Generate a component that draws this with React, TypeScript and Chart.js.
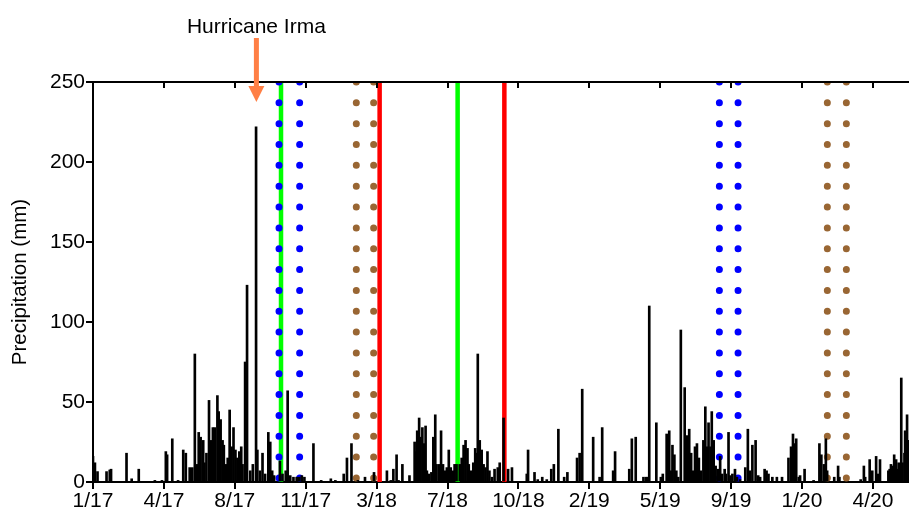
import { useEffect, useRef } from 'react';
import { Chart, registerables } from 'chart.js';

Chart.register(...registerables);

// Daily precipitation readings: day index (days since 1/1/17) and value in mm
const rainDay = [
  0, 3, 7, 21, 26, 28, 52, 60, 71, 96, 107, 113, 115, 123, 132, 140, 144, 150, 154, 158,
  161, 164, 167, 171, 173, 176, 180, 183, 186, 189, 193, 195, 198, 201, 203, 206, 209, 212, 215, 218,
  221, 224, 227, 230, 232, 236, 239, 244, 248, 253, 255, 259, 263, 267, 272, 275, 278, 281, 290, 294,
  299, 302, 306, 311, 316, 320, 324, 328, 342, 354, 369, 376, 389, 394, 401, 411, 422, 436, 456, 462,
  466, 471, 474, 480, 491, 499, 501, 503, 506, 508, 511, 514, 516, 518, 521, 525, 528, 531, 533, 537,
  540, 543, 546, 549, 552, 555, 559, 561, 564, 569, 572, 575, 578, 581, 583, 586, 590, 593, 595, 597,
  600, 603, 606, 609, 612, 615, 619, 623, 628, 631, 637, 644, 650, 673, 675, 685, 690, 697, 704, 711,
  715, 722, 731, 736, 751, 755, 759, 776, 786, 790, 807, 810, 832, 836, 842, 854, 858, 861, 863, 874,
  881, 884, 890, 894, 897, 899, 902, 905, 908, 912, 918, 922, 925, 928, 931, 934, 937, 940, 943, 947,
  950, 953, 955, 958, 960, 963, 966, 970, 973, 976, 980, 982, 986, 989, 992, 996, 999, 1004, 1012, 1016,
  1019, 1023, 1028, 1032, 1035, 1042, 1045, 1048, 1054, 1061, 1069, 1079, 1083, 1086, 1088, 1091, 1095, 1097, 1104, 1118,
  1127, 1130, 1134, 1137, 1139, 1150, 1156, 1158, 1191, 1196, 1198, 1205, 1209, 1215, 1218, 1221, 1234, 1236, 1238, 1241,
  1243, 1246, 1248, 1250, 1252, 1254, 1256, 1259, 1260, 1263, 1265,
];
const rainMm = [
  16, 12, 6.5, 6.5, 7.5, 8, 18, 2, 8, 1, 1, 19, 17, 27, 1, 20, 18, 9, 9, 80,
  11, 31, 28, 26, 12, 18, 51, 26, 34, 34, 54, 44, 39, 26, 23, 11, 15, 45, 22, 34,
  20, 15, 19, 22, 11, 75, 123, 7, 11, 222, 20, 7, 18, 5, 31, 25, 7, 4, 13, 5,
  7, 57, 4, 3, 3, 3, 4, 3, 24, 1, 2, 1, 5, 15, 24, 1, 3, 6, 7, 1,
  8, 17, 1, 11, 4, 25, 19, 32, 40, 28, 34, 24, 35, 7, 5, 6, 28, 42, 11, 11,
  32, 11, 7, 9, 20, 9, 7, 11, 11, 11, 15, 23, 26, 21, 11, 7, 12, 21, 18, 80,
  26, 20, 11, 9, 19, 7, 3, 8, 9, 12, 40, 8, 9, 5, 20, 6, 1.5, 3, 1.5, 8,
  11, 33, 3, 6, 15, 18, 58, 28, 3, 34, 7, 19, 8, 27, 28, 3, 3, 3, 110, 37,
  3, 5, 30, 32, 7, 23, 17, 7, 3, 95, 59, 29, 33, 18, 7, 22, 24, 15, 7, 26,
  47, 22, 37, 22, 44, 26, 10, 8, 16, 5, 8, 5, 31, 4, 5, 8, 3, 1.5, 9, 33,
  7, 23, 26, 4, 3, 8, 7, 5, 3, 3, 3, 15, 22, 30, 24, 27, 3, 4, 8, 1,
  24, 17, 11, 27, 7, 3, 10, 3, 1.5, 10, 3, 14, 7, 16, 5, 14, 7, 8, 11, 10,
  17, 14, 8, 12, 9, 65, 12, 18, 32, 42, 26,
];

const xTickDays = [0, 110, 220, 330, 440, 550, 660, 770, 880, 990, 1100, 1210];
const xTickLabels = ['1/17', '4/17', '8/17', '11/17', '3/18', '7/18', '10/18', '2/19', '5/19', '9/19', '1/20', '4/20'];
const yTickValues = [0, 50, 100, 150, 200, 250];
const xMaxDay = 1266;

const greenDays = [291.7, 565.7];
const redDays = [444.7, 638.2];
const blueDotDays = [288.6, 320.6, 971.8, 1000.8];
const brownDotDays = [408.5, 435.4, 1139.3, 1168.8];

const irmaDay = 253.5;
const irmaLabel = 'Hurricane Irma';
const irmaTextY = 280.4;
const irmaArrowTop = 277.5;
const irmaArrowHeadBase = 247.5;
const irmaArrowTip = 237.5;

const FONT = "'Liberation Sans', Arial, Helvetica, sans-serif";

export default function App() {
  const ref = useRef<HTMLCanvasElement | null>(null);

  useEffect(() => {
    if (!ref.current) return;
    Chart.defaults.font.family = FONT;
    Chart.defaults.font.size = 21;
    Chart.defaults.color = '#000';

    const vLine = (d: number, color: string, width: number, dotted: boolean, order: number) => ({
      type: 'line' as const,
      data: [
        { x: d, y: 250 },
        { x: d, y: 0 },
      ],
      borderColor: color,
      backgroundColor: color,
      borderWidth: width,
      borderDash: dotted ? [0, 20.84] : [],
      borderCapStyle: dotted ? ('round' as const) : ('butt' as const),
      pointRadius: 0,
      fill: false,
      order,
    });

    const topAxisPlugin = {
      id: 'topAxisAndNote',
      afterDraw(chart: any) {
        const { ctx, chartArea, scales } = chart;
        const xs = scales.x;
        const ys = scales.y;
        ctx.save();
        ctx.strokeStyle = '#000';
        ctx.lineWidth = 2;
        ctx.beginPath();
        ctx.moveTo(chartArea.left, chartArea.top);
        ctx.lineTo(chartArea.right, chartArea.top);
        ctx.stroke();
        xTickDays.forEach((d) => {
          const px = Math.round(xs.getPixelForValue(d));
          ctx.beginPath();
          ctx.moveTo(px, chartArea.top);
          ctx.lineTo(px, chartArea.top + 6);
          ctx.stroke();
        });
        const ax = xs.getPixelForValue(irmaDay);
        const yTop = ys.getPixelForValue(irmaArrowTop);
        const yHead = ys.getPixelForValue(irmaArrowHeadBase);
        const yTip = ys.getPixelForValue(irmaArrowTip);
        ctx.fillStyle = '#ff7f45';
        ctx.fillRect(ax - 2.5, yTop, 5, yHead - yTop + 1);
        ctx.beginPath();
        ctx.moveTo(ax - 8, yHead);
        ctx.lineTo(ax + 8, yHead);
        ctx.lineTo(ax, yTip);
        ctx.closePath();
        ctx.fill();
        ctx.fillStyle = '#000';
        ctx.font = `21px ${FONT}`;
        ctx.textAlign = 'center';
        ctx.textBaseline = 'alphabetic';
        ctx.fillText(irmaLabel, ax, ys.getPixelForValue(irmaTextY));
        ctx.restore();
      },
    };

    const datasets: any[] = [
      {
        type: 'bar',
        data: rainDay.map((d, i) => ({ x: d, y: rainMm[i] })),
        backgroundColor: '#000',
        borderWidth: 0,
        barThickness: 2,
        order: 0,
      },
      ...blueDotDays.map((d) => vLine(d, '#0000ff', 7, true, 1)),
      ...brownDotDays.map((d) => vLine(d, '#996633', 7, true, 1)),
      ...greenDays.map((d) => vLine(d, '#00ff00', 4.5, false, 2)),
      ...redDays.map((d) => vLine(d, '#ff0000', 4.5, false, 2)),
    ];

    const chart = new Chart(ref.current, {
      type: 'bar',
      data: { datasets },
      options: {
        animation: false,
        responsive: false,
        devicePixelRatio: 1,
        layout: { padding: { top: 82, right: 0, bottom: 0, left: 0 } },
        plugins: {
          legend: { display: false },
          tooltip: { enabled: false },
        },
        scales: {
          x: {
            type: 'linear',
            min: 0,
            max: xMaxDay,
            offset: false,
            afterBuildTicks: (s: any) => {
              s.ticks = xTickDays.map((v) => ({ value: v }));
            },
            afterFit: (s: any) => {
              s.height = 28;
            },
            ticks: {
              autoSkip: false,
              maxRotation: 0,
              minRotation: 0,
              padding: 0,
              color: '#000',
              font: { size: 21, family: FONT },
              callback: (_v: any, i: number) => xTickLabels[i],
            },
            grid: {
              display: true,
              drawOnChartArea: false,
              drawTicks: true,
              tickLength: 7,
              color: '#000',
              lineWidth: 2,
              offset: false,
            },
            border: { display: true, color: '#000', width: 2 },
          },
          y: {
            type: 'linear',
            min: 0,
            max: 250,
            afterBuildTicks: (s: any) => {
              s.ticks = yTickValues.map((v) => ({ value: v }));
            },
            afterFit: (s: any) => {
              s.width = 93;
            },
            ticks: {
              padding: 1,
              color: '#000',
              font: { size: 21, family: FONT },
            },
            grid: {
              display: true,
              drawOnChartArea: false,
              drawTicks: true,
              tickLength: 7,
              color: '#000',
              lineWidth: 2,
            },
            border: { display: true, color: '#000', width: 2 },
            title: {
              display: true,
              text: 'Precipitation (mm)',
              color: '#000',
              font: { size: 20.5, family: FONT },
              padding: { top: 8, bottom: 0 },
            },
          },
        },
      },
      plugins: [topAxisPlugin],
    } as any);

    return () => chart.destroy();
  }, []);

  return (
    <div style={{ position: 'absolute', left: 0, top: 0, width: 909, height: 510 }}>
      <canvas ref={ref} width={909} height={510} style={{ display: 'block' }} />
    </div>
  );
}
